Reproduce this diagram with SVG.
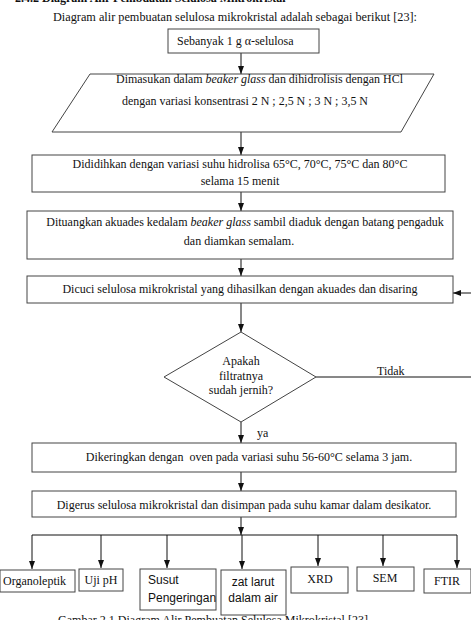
<svg xmlns="http://www.w3.org/2000/svg" width="471" height="620" viewBox="0 0 471 620">
<style>
.bx{fill:#fff;stroke:#444;stroke-width:1}
.ln{fill:none;stroke:#111;stroke-width:1}
.t{font-family:"Liberation Serif","Times New Roman",serif;font-size:12px;fill:#111}
.s{font-family:"Liberation Sans",Arial,sans-serif;font-size:12px;fill:#111}
.m{text-anchor:middle}
</style>
<defs>
<marker id="ah" viewBox="0 0 8 8" refX="8" refY="4" markerWidth="8" markerHeight="8" markerUnits="userSpaceOnUse" orient="auto">
<path d="M0,1 L8,4 L0,7 Z" fill="#111"/>
</marker>
</defs>
<rect width="471" height="620" fill="#fff"/>
<text class="t" x="15" y="2" font-weight="bold">2.4.2    Diagram Alir Pembuatan Selulosa Mikrokristal</text>
<text class="t" x="53" y="21" textLength="364" lengthAdjust="spacingAndGlyphs">Diagram alir pembuatan selulosa mikrokristal adalah sebagai berikut [23]:</text>

<g id="connectors">
<line class="ln" x1="241" y1="53" x2="241" y2="74" marker-end="url(#ah)"/>
<line class="ln" x1="241" y1="132" x2="241" y2="155" marker-end="url(#ah)"/>
<line class="ln" x1="241" y1="192" x2="241" y2="211" marker-end="url(#ah)"/>
<line class="ln" x1="241" y1="259" x2="241" y2="276" marker-end="url(#ah)"/>
<line class="ln" x1="241" y1="303" x2="241" y2="332" marker-end="url(#ah)"/>
<line class="ln" x1="241" y1="422" x2="241" y2="443" marker-end="url(#ah)"/>
<line class="ln" x1="241" y1="472" x2="241" y2="491" marker-end="url(#ah)"/>
<line class="ln" x1="241" y1="517" x2="241" y2="535" marker-end="url(#ah)"/>
<line class="ln" x1="316" y1="377" x2="471" y2="377"/>
<line class="ln" x1="471" y1="293" x2="453" y2="293" marker-end="url(#ah)"/>
<line class="ln" x1="32" y1="535" x2="457" y2="535"/>
<line class="ln" x1="32" y1="535" x2="32" y2="569" marker-end="url(#ah)"/>
<line class="ln" x1="101" y1="535" x2="101" y2="568" marker-end="url(#ah)"/>
<line class="ln" x1="167" y1="535" x2="167" y2="568" marker-end="url(#ah)"/>
<line class="ln" x1="242" y1="535" x2="242" y2="569" marker-end="url(#ah)"/>
<line class="ln" x1="318" y1="535" x2="318" y2="566" marker-end="url(#ah)"/>
<line class="ln" x1="383" y1="535" x2="383" y2="566" marker-end="url(#ah)"/>
<line class="ln" x1="457" y1="535" x2="457" y2="568" marker-end="url(#ah)"/>
<text class="t" x="377" y="375">Tidak</text>
<text class="t" x="257" y="437">ya</text>
</g>

<g id="n1">
<rect class="bx" x="168" y="29" width="151" height="24"/>
<text class="t" x="177" y="45">Sebanyak 1 g α-selulosa</text>
</g>
<g id="n2">
<polygon class="bx" points="90,74 434,74 401,132 52,132"/>
<text class="t" x="116" y="83" textLength="287" lengthAdjust="spacingAndGlyphs">Dimasukan dalam <tspan font-style="italic">beaker glass</tspan> dan dihidrolisis dengan HCl</text>
<text class="t" x="122" y="105" textLength="246" lengthAdjust="spacingAndGlyphs">dengan variasi konsentrasi 2 N ; 2,5 N ; 3 N ; 3,5 N</text>
</g>
<g id="n3">
<rect class="bx" x="32" y="155" width="413" height="37"/>
<text class="t m" x="240" y="168">Dididihkan dengan variasi suhu hidrolisa 65°C, 70°C, 75°C dan 80°C</text>
<text class="t m" x="240" y="185">selama 15 menit</text>
</g>
<g id="n4">
<rect class="bx" x="27" y="211" width="426" height="48"/>
<text class="t m" x="245" y="226">Dituangkan akuades kedalam <tspan font-style="italic">beaker glass</tspan> sambil diaduk dengan batang pengaduk</text>
<text class="t m" x="239" y="245">dan diamkan semalam.</text>
</g>
<g id="n5">
<rect class="bx" x="27" y="276" width="426" height="27"/>
<text class="t m" x="240" y="293">Dicuci selulosa mikrokristal yang dihasilkan dengan akuades dan disaring</text>
</g>
<g id="n6">
<polygon class="bx" points="241,332 316,377 241,422 164,377"/>
<text class="t m" x="241" y="365">Apakah</text>
<text class="t m" x="241" y="380">filtratnya</text>
<text class="t m" x="241" y="394">sudah jernih?</text>
</g>
<g id="n7">
<rect class="bx" x="32" y="443" width="424" height="29"/>
<text class="t m" x="249" y="461" xml:space="preserve">Dikeringkan dengan  oven pada variasi suhu 56-60°C selama 3 jam.</text>
</g>
<g id="n8">
<rect class="bx" x="32" y="491" width="424" height="26"/>
<text class="t m" x="244" y="509">Digerus selulosa mikrokristal dan disimpan pada suhu kamar dalam desikator.</text>
</g>
<g id="n9">
<rect class="bx" x="0" y="570" width="75" height="22"/>
<text class="t" x="3" y="585">Organoleptik</text>
</g>
<g id="n10">
<rect class="bx" x="79" y="569" width="44" height="22"/>
<text class="t m" x="101" y="584">Uji pH</text>
</g>
<g id="n11">
<rect class="bx" x="140" y="569" width="76" height="41"/>
<text class="s" x="148" y="584">Susut</text>
<text class="s" x="148" y="602">Pengeringan</text>
</g>
<g id="n12">
<rect class="bx" x="221" y="570" width="65" height="45"/>
<text class="s m" x="253" y="586">zat larut</text>
<text class="s m" x="253" y="602">dalam air</text>
</g>
<g id="n13">
<rect class="bx" x="291" y="567" width="57" height="26"/>
<text class="t m" x="320" y="583">XRD</text>
</g>
<g id="n14">
<rect class="bx" x="357" y="567" width="57" height="24"/>
<text class="t m" x="385" y="582">SEM</text>
</g>
<g id="n15">
<rect class="bx" x="424" y="569" width="47" height="24"/>
<text class="t m" x="447" y="585">FTIR</text>
</g>
<text class="t" x="58" y="624" textLength="310" lengthAdjust="spacingAndGlyphs">Gambar 2.1 Diagram Alir Pembuatan Selulosa Mikrokristal [23]</text>
</svg>
